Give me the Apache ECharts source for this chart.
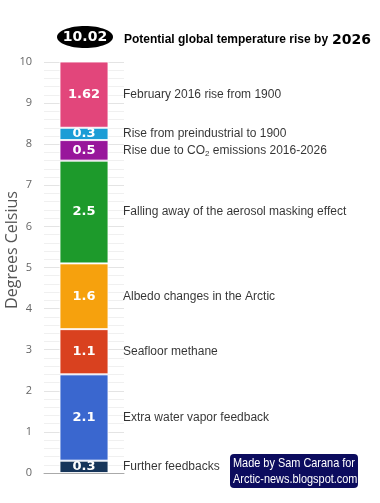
<!DOCTYPE html>
<html>
<head>
<meta charset="utf-8">
<script src="https://cdn.jsdelivr.net/npm/echarts@6/dist/echarts.min.js"></script>
<style>html,body{margin:0;padding:0;background:#fff;}#c{width:380px;height:503px;}</style>
</head>
<body>
<div id="c"></div>
<script>
// Data (bottom to top)
const segmentNames = [
  'Further feedbacks',
  'Extra water vapor feedback',
  'Seafloor methane',
  'Albedo changes in the Arctic',
  'Falling away of the aerosol masking effect',
  'Rise due to CO{sub|2} emissions 2016-2026',
  'Rise from preindustrial to 1900',
  'February 2016 rise from 1900'
];
const segmentValues = [0.3, 2.1, 1.1, 1.6, 2.5, 0.5, 0.3, 1.62];
const segmentValueLabels = ['0.3', '2.1', '1.1', '1.6', '2.5', '0.5', '0.3', '1.62'];
const segmentColors = ['#16355a', '#3a67cf', '#d9411f', '#f6a10d', '#1d9a2b', '#98169b', '#1c9dd6', '#e2467b'];
const yTicks = [0, 1, 2, 3, 4, 5, 6, 7, 8, 9, 10];
const totalValue = '10.02';
const targetYear = '2026';
const titleText = 'Potential global temperature rise by';
const creditLines = ['Made by Sam Carana for', 'Arctic-news.blogspot.com'];
const categories = ['total'];

const chart = echarts.init(document.getElementById('c'), null, {renderer: 'canvas'});

const series = [];
segmentValues.forEach((v, i) => {
  series.push({
    type: 'bar',
    stack: 'all',
    barWidth: 49,
    data: [v],
    itemStyle: {color: segmentColors[i], borderColor: 'rgba(255,255,255,0.85)', borderWidth: 1},
    label: {
      show: true, position: 'inside',
      formatter: () => segmentValueLabels[i],
      color: '#fff', fontFamily: 'DejaVu Sans', fontWeight: 'bold', fontSize: 13
    },
    emphasis: {disabled: true},
    animation: false
  });
});
// description labels at segment centers
let cum = 0;
const descData = segmentValues.map((v, i) => {
  const c = cum + v / 2; cum += v;
  return {value: [0, c], name: segmentNames[i]};
});
series.push({
  type: 'scatter',
  symbolSize: 0,
  data: descData,
  label: {
    show: true, position: 'right', distance: 39,
    formatter: p => p.name,
    color: '#000', fontFamily: 'Liberation Sans, Arial', fontSize: 12,
    rich: {sub: {fontSize: 8, padding: [7, 0, 0, 0], color: '#000', fontFamily: 'Liberation Sans, Arial'}}
  },
  silent: true,
  animation: false
});

chart.setOption({
  animation: false,
  grid: {left: 44, width: 80, top: 62, bottom: 30},
  xAxis: {
    type: 'category', data: categories,
    axisLine: {show: true, lineStyle: {color: '#aaa', width: 1}},
    axisTick: {show: false}, axisLabel: {show: false}
  },
  yAxis: {
    type: 'value', min: 0, max: 10, interval: 1,
    axisLine: {show: false}, axisTick: {show: false},
    axisLabel: {
      color: '#666', fontFamily: 'Open Sans', fontSize: 11, margin: 12,
      formatter: v => yTicks.includes(v) ? String(v) : ''
    },
    splitLine: {show: true, lineStyle: {color: '#e4e4e4'}},
    minorTick: {show: false, splitNumber: 5},
    minorSplitLine: {show: true, lineStyle: {color: '#f0f0f0'}}
  },
  series: series,
  graphic: [
    {type: 'ellipse', shape: {cx: 85, cy: 37, rx: 28, ry: 11}, style: {fill: '#000'}},
    {type: 'text', x: 85, y: 37, style: {text: totalValue, fill: '#fff', font: 'bold 14px "DejaVu Sans"', textAlign: 'center', textVerticalAlign: 'middle'}},
    {type: 'text', x: 124, y: 40, style: {text: titleText, fill: '#000', font: 'bold 12px "Liberation Sans", Arial', textAlign: 'left', textVerticalAlign: 'middle'}},
    {type: 'text', x: 332, y: 40, style: {text: targetYear, fill: '#000', font: 'bold 14px "DejaVu Sans"', textAlign: 'left', textVerticalAlign: 'middle'}},
    {type: 'text', x: 12, y: 250, rotation: Math.PI / 2, style: {text: 'Degrees Celsius', fill: '#555', font: '16px "Open Sans"', textAlign: 'center', textVerticalAlign: 'middle'}},
    {type: 'rect', shape: {x: 230, y: 454, width: 128, height: 34, r: 4}, style: {fill: '#0c0c5e'}},
    {type: 'text', x: 233, y: 463, scaleX: 0.84, style: {text: creditLines[0], fill: '#fff', font: '13px "Liberation Sans", Arial', textAlign: 'left', textVerticalAlign: 'middle'}},
    {type: 'text', x: 233, y: 479, scaleX: 0.84, style: {text: creditLines[1], fill: '#fff', font: '13px "Liberation Sans", Arial', textAlign: 'left', textVerticalAlign: 'middle'}}
  ]
});
</script>
</body>
</html>
